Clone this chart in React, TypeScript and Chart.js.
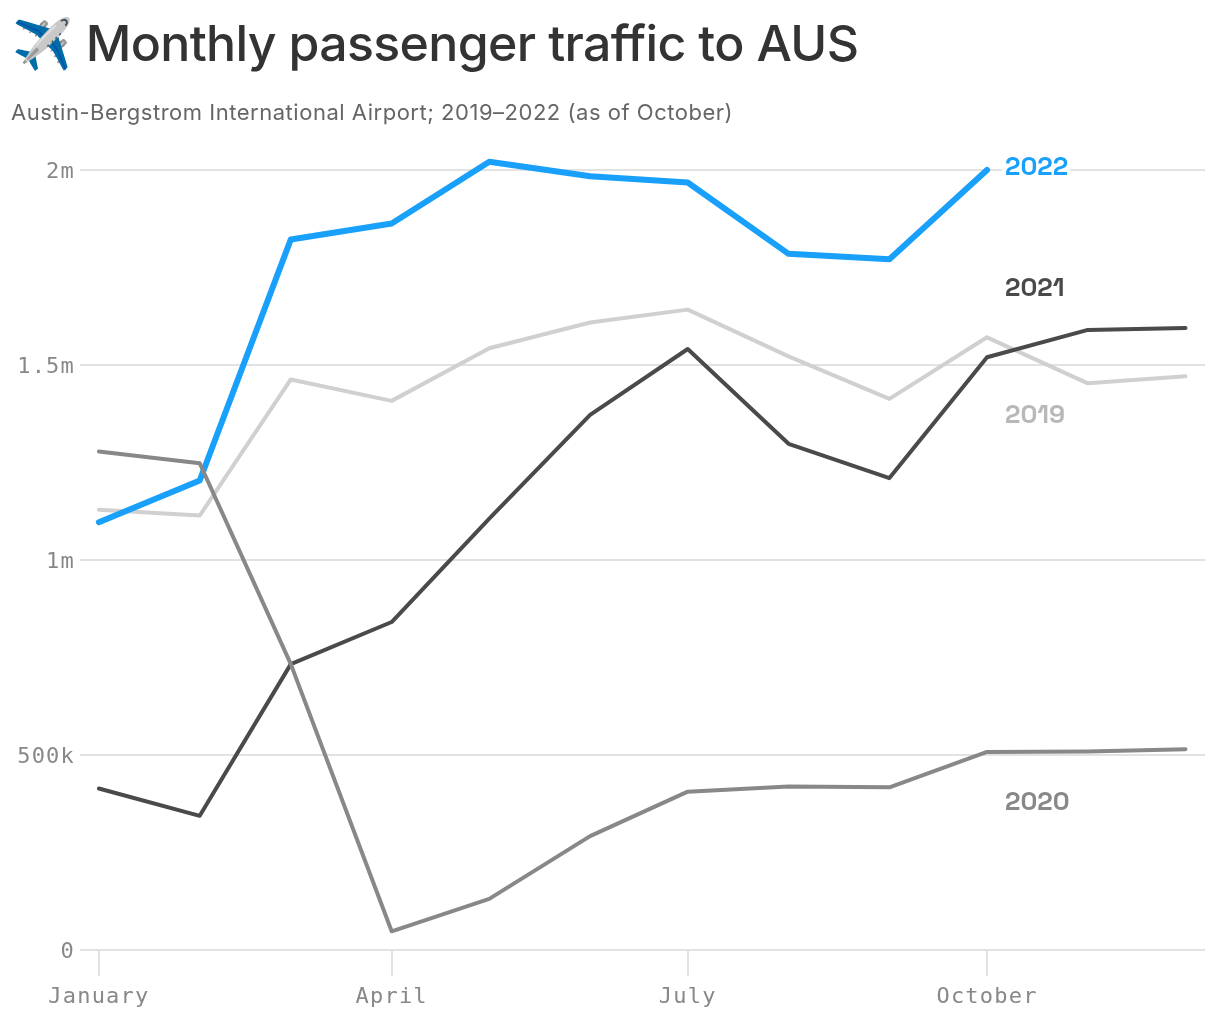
import React, { useEffect, useRef } from "react";
import { Chart, registerables } from "chart.js";

Chart.register(...registerables);

const months = ["January", "February", "March", "April", "May", "June", "July", "August", "September", "October", "November", "December"];
const monthStartDay = [0, 31, 59, 90, 120, 151, 181, 212, 243, 273, 304, 334];
const tickMonths = ["January", "April", "July", "October"];
const yTicks = [0, 500000, 1000000, 1500000, 2000000];
const yTickLabels = ["0", "500k", "1m", "1.5m", "2m"];

const y2019 = [1129000, 1114000, 1463000, 1408000, 1543000, 1609000, 1642000, 1522000, 1413000, 1571000, 1453000, 1471000];
const y2020 = [1278000, 1248000, 733000, 48000, 131000, 292000, 406000, 419000, 417000, 508000, 509000, 515000];
const y2021 = [414000, 344000, 733000, 841000, 1106000, 1372000, 1541000, 1298000, 1210000, 1520000, 1590000, 1595000];
const y2022 = [1097000, 1204000, 1822000, 1863000, 2021000, 1984000, 1968000, 1785000, 1771000, 2000000];

const seriesLabels = ["2019", "2020", "2021", "2022"];
const seriesColors = ["#d0d0d0", "#888888", "#4a4a4a", "#18a0fb"];
const labelTextColors = ["#b8b8b8", "#888888", "#4a4a4a", "#18a0fb"];
const labelValues = [1370000, 378000, 1695000, 2006000];

const pts = (vals: number[]) => vals.map((v, i) => ({ x: monthStartDay[i], y: v }));

const spacing = {
  id: "spacing",
  beforeDraw(chart: any) {
    chart.ctx.letterSpacing = "1.2px";
  },
  beforeDatasetsDraw(chart: any) {
    chart.ctx.letterSpacing = "0px";
  },
};

const endLabels = {
  id: "endLabels",
  afterDatasetsDraw(chart: any) {
    const { ctx, scales } = chart;
    const x = scales.x.getPixelForValue(monthStartDay[9]) + 18;
    ctx.save();
    ctx.letterSpacing = "0px";
    ctx.font = '600 26px "Space Grotesk", "Inter", sans-serif';
    ctx.textBaseline = "middle";
    ctx.textAlign = "left";
    seriesLabels.forEach((s, i) => {
      const y = scales.y.getPixelForValue(labelValues[i]);
      if (s === "2022") {
        ctx.fillStyle = "#fff";
        ctx.fillRect(x - 3, y - 14, ctx.measureText(s).width + 5, 28);
      }
      ctx.fillStyle = labelTextColors[i];
      ctx.fillText(s, x, y);
    });
    ctx.restore();
  },
};

export default function App() {
  const ref = useRef<HTMLCanvasElement>(null);
  useEffect(() => {
    document.body.style.margin = "0";
    const mk = (i: number, vals: number[], width: number, order: number) => ({
      label: seriesLabels[i],
      data: pts(vals),
      borderColor: seriesColors[i],
      backgroundColor: seriesColors[i],
      borderWidth: width,
      pointRadius: 0,
      tension: 0,
      borderJoinStyle: "round" as const,
      borderCapStyle: "round" as const,
      clip: false as any,
      order,
    });
    const mono = { family: '"DejaVu Sans Mono", monospace', size: 22 };
    const chart = new Chart(ref.current!, {
      type: "line",
      data: {
        datasets: [
          mk(1, y2020, 4, 1),
          mk(2, y2021, 4, 2),
          mk(3, y2022, 6, 3),
          mk(0, y2019, 4, 4),
        ],
      },
      plugins: [spacing, endLabels],
      options: {
        animation: false,
        responsive: false,
        layout: { padding: { top: 170, right: 15, left: 0, bottom: 0 } },
        plugins: { legend: { display: false }, tooltip: { enabled: false } },
        scales: {
          x: {
            type: "linear",
            min: -5.8,
            max: 340,
            afterFit: (s: any) => { s.height = 70; },
            afterBuildTicks: (s: any) => {
              s.ticks = tickMonths.map((m) => ({ value: monthStartDay[months.indexOf(m)] }));
            },
            grid: { drawOnChartArea: false, color: "#e2e2e2", lineWidth: 2, tickLength: 26, drawTicks: true },
            border: { display: false },
            ticks: {
              color: "#888888",
              font: mono,
              padding: 8,
              maxRotation: 0,
              autoSkip: false,
              callback: (v: any) => months[monthStartDay.indexOf(Number(v))],
            },
          },
          y: {
            min: 0,
            max: 2000000,
            afterFit: (s: any) => { s.width = 80; },
            afterBuildTicks: (s: any) => { s.ticks = yTicks.map((value) => ({ value })); },
            grid: { color: "#e2e2e2", lineWidth: 2, drawTicks: false },
            border: { display: false },
            ticks: {
              color: "#888888",
              font: mono,
              padding: 5,
              labelOffset: 2,
              autoSkip: false,
              callback: (v: any) => yTickLabels[yTicks.indexOf(Number(v))],
            },
          },
        },
      },
    });
    return () => chart.destroy();
  }, []);
  return (
    <div style={{ position: "relative", width: 1220, height: 1020, background: "#fff" }}>
      <canvas ref={ref} width={1220} height={1020} style={{ position: "absolute", left: 0, top: 0 }} />
      <div style={{ position: "absolute", left: 12, top: 9, fontFamily: 'Inter, sans-serif', fontSize: 50, fontWeight: 500, letterSpacing: "-0.65px", color: "#333", whiteSpace: "nowrap", lineHeight: "68px" }}>
        <span style={{ fontSize: 49, letterSpacing: 0 }}>✈️</span> Monthly passenger traffic to AUS
      </div>
      <div style={{ position: "absolute", left: 11, top: 98, fontFamily: 'Inter, sans-serif', fontSize: 22, letterSpacing: "0.52px", color: "#666", whiteSpace: "nowrap", lineHeight: "28px" }}>
        Austin-Bergstrom International Airport; 2019–2022 (as of October)
      </div>
    </div>
  );
}
